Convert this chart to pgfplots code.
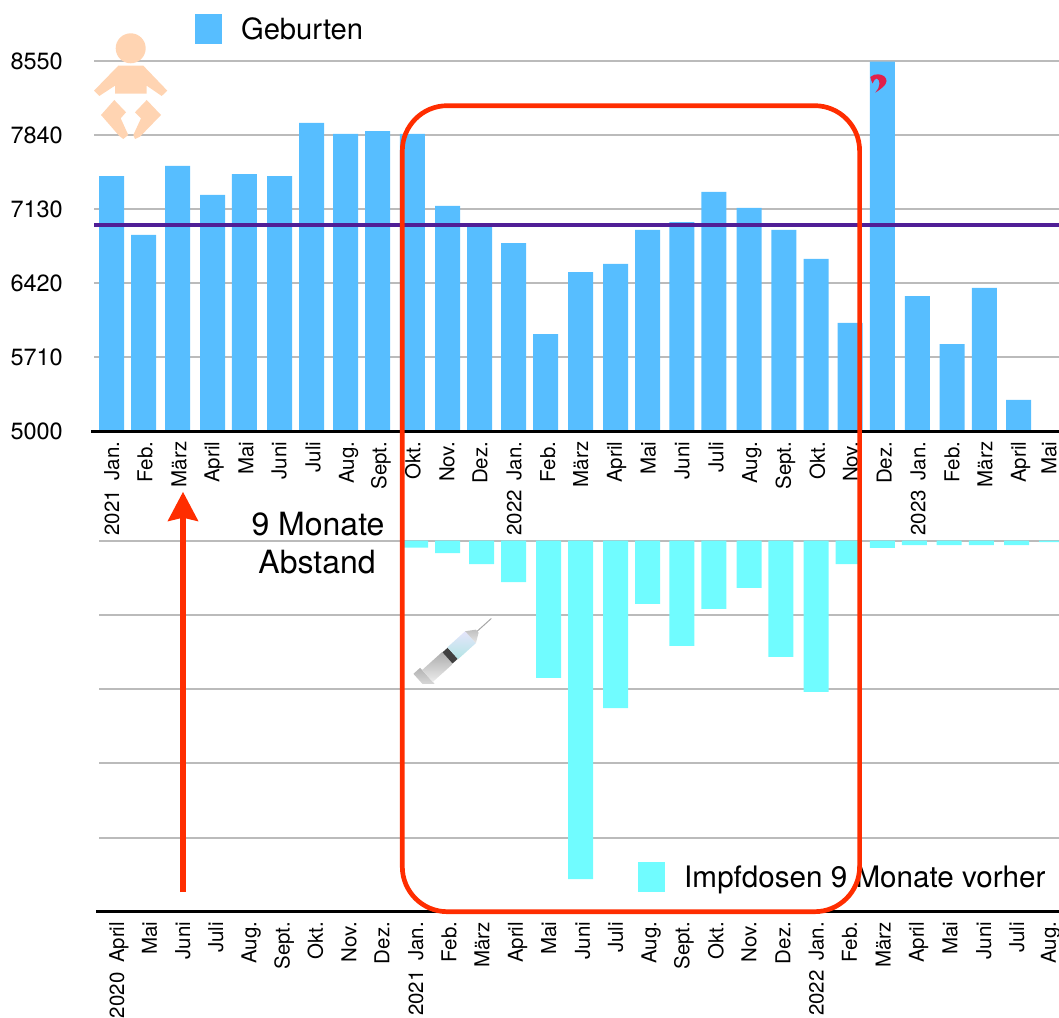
\documentclass[border=0pt]{standalone}
\usepackage{fontspec}
\setmainfont{TeX Gyre Heros}
\usepackage{pgfplots}
\pgfplotsset{compat=1.18}
\usetikzlibrary{arrows.meta}
\definecolor{gridgray}{HTML}{BBBBBB}
\definecolor{birthblue}{HTML}{57BEFF}
\definecolor{doseaqua}{HTML}{70FCFF}
\definecolor{meanpurple}{HTML}{501E96}
\definecolor{boxred}{HTML}{FF2D00}
\definecolor{babypeach}{HTML}{FFD4B2}
\definecolor{qcrimson}{HTML}{E0204A}
\newcommand{\yr}[2]{#1\hspace{.47em}#2}
\pgfplotsset{
  monthaxis/.style={
    scale only axis, clip=false, xmax=1059,
    axis line style={draw=none}, tick style={draw=none},
    major tick length=0pt,
    ymajorgrids, grid style={gridgray,line width=2pt},
    /pgf/number format/assume math mode=true,
    /pgf/number format/set thousands separator={},
    xticklabel style={yshift=-10pt,rotate=90,anchor=east,inner sep=0pt,
      font=\fontsize{20.5}{24}\selectfont,text height=14.8pt,text depth=0pt},
    legend style={draw=none,fill=none,anchor=west,inner sep=0pt,outer sep=0pt,
      /tikz/column sep=19pt,nodes={inner sep=0pt}},
  },
  squarebar/.style={ybar,bar width=25pt,draw=none,
    legend image code/.code={\fill[##1] (0pt,-15pt) rectangle (27pt,15pt);}},
}
\begin{document}
\begin{tikzpicture}
\useasboundingbox (0,0) rectangle (1059pt,1017pt);

% Geburten
\begin{axis}[monthaxis,
  at={(94pt,585.5pt)}, anchor=south west,
  width=965pt, height=370.5pt,
  xmin=94, ymin=5000, ymax=8550,
  ytick={5000,5710,6420,7130,7840,8550},
  yticklabel style={anchor=east,inner sep=0pt,xshift=-31pt,
    font=\fontsize{23.5}{28}\selectfont},
  xtick={111.6,145,179,212,246,279,313,346.5,379,413,447,480,514,547.6,580.7,
    614.5,648.3,682,716,749.7,783.5,817.4,850.5,884.3,918,952,985,1018.5,1049},
  xticklabels={\yr{2021}{Jan.},Feb.,März,April,Mai,Juni,Juli,Aug.,Sept.,Okt.,Nov.,Dez.,
    \yr{2022}{Jan.},Feb.,März,April,Mai,Juni,Juli,Aug.,Sept.,Okt.,Nov.,Dez.,
    \yr{2023}{Jan.},Feb.,März,April,Mai},
  legend style={at={(0.1047,1.0864)},font=\fontsize{29.2}{34}\selectfont},
]
\addplot[squarebar,fill=birthblue] coordinates {
  (111.6,7448) (143.7,6883) (177.5,7544) (212.6,7266) (244.4,7467) (279.6,7448)
  (311.7,7956) (345.5,7851) (377.6,7879) (412.4,7851) (447.6,7161) (479.7,6983)
  (513.5,6806) (545.6,5934) (580.7,6528) (615.5,6605) (647.6,6931) (681.8,7007)
  (713.9,7295) (749.1,7142) (783.9,6931) (816,6653) (850.1,6040) (882.3,8545)
  (917.4,6298) (952.2,5838) (984.4,6375) (1018.5,5302)
};
\addlegendentry{Geburten}
\addplot[forget plot,meanpurple,line width=4pt] coordinates {(94,6981) (1059,6981)};
\addplot[forget plot,black,line width=2.7pt] coordinates {(91,5000) (1059,5000)};
\end{axis}

% Impfdosen
\begin{axis}[monthaxis,
  at={(99pt,105.3pt)}, anchor=south west,
  width=960pt, height=371pt,
  xmin=99, ymin=-5, ymax=0,
  ytick={-5,-4,-3,-2,-1,0}, yticklabels={},
  xtick={116.6,149.4,182.6,215.7,249,282.3,315.4,348.9,382,415.8,449,482,515.5,548.6,
    582.4,615.5,649,682,716,749,782.9,816.3,849.5,883.3,916.4,949.9,983.7,1016.8,1048.5},
  xticklabels={\yr{2020}{April},Mai,Juni,Juli,Aug.,Sept.,Okt.,Nov.,Dez.,
    \yr{2021}{Jan.},Feb.,März,April,Mai,Juni,Juli,Aug.,Sept.,Okt.,Nov.,Dez.,
    \yr{2022}{Jan.},Feb.,März,April,Mai,Juni,Juli,Aug.},
  legend style={at={(0.5617,0.0935)},font=\fontsize{29.6}{34}\selectfont},
]
\addplot[squarebar,fill=doseaqua] coordinates {
  (415.5,-0.094) (447.6,-0.166) (481.7,-0.314) (513.5,-0.557) (548.6,-1.85)
  (580.7,-4.56) (615.5,-2.255) (647.6,-0.853) (681.8,-1.419) (713.9,-0.92)
  (749.1,-0.637) (780.8,-1.567) (816,-2.039) (848.1,-0.314) (882.3,-0.098)
  (914.4,-0.058) (949.2,-0.058) (981.3,-0.058) (1016.5,-0.058) (1051.6,-0.018)
};
\addlegendentry{Impfdosen 9 Monate vorher}
\addplot[forget plot,black,line width=2.7pt] coordinates {(96.3,-5) (1059,-5)};
\end{axis}

% annotations in the picture's own pixel coordinates
\begin{scope}[x=1pt,y=-1pt,yshift=1017pt]
  % baby
  \fill[babypeach] (130.7,48.3) circle (15);
  \fill[babypeach] (118.3,65.7) -- (143.3,65.7) -- (167.3,90.7) -- (161.7,96)
    -- (146.7,85.7) -- (146.7,93.7) -- (115,93.7) -- (115,85.7) -- (99.3,96)
    -- (94,90.7) -- cycle;
  \fill[babypeach] (114.3,100) -- (126,112.3) -- (120.7,118.3) -- (128.3,135)
    -- (123.3,139) -- (119.3,136) -- (101,115) -- cycle;
  \fill[babypeach] (146.7,100) -- (161,115) -- (140,136.7) -- (135,139)
    -- (133.3,135) -- (141,118.3) -- (135,112.3) -- cycle;
  % syringe
  \begin{scope}
    \clip (400,610) rectangle (500,683.5);
    \begin{scope}[shift={(423,680)},rotate=42]
      \shade[top color=gray!60,bottom color=gray!20] (-3,-11) rectangle (6,11);
      \shade[top color=gray!65,bottom color=gray!15] (6,-8) rectangle (33,8);
      \fill[black!75] (33,-7.5) rectangle (40,7.5);
      \shade[top color=black!15!blue!10!white,bottom color=black!35!cyan!30] (40,-8) rectangle (64,8);
      \shade[top color=gray!50,bottom color=gray!20] (64,-8) -- (73,-2) -- (73,2) -- (64,8) -- cycle;
      \draw[gray!70,line width=1pt] (73,0) -- (92,0);
    \end{scope}
  \end{scope}
  % question mark on the December bar
  \fill[qcrimson] (870.3,77) .. controls (872.5,75) and (875.5,74) .. (878.5,74.3)
    .. controls (883.5,74.8) and (886.5,77.5) .. (886.5,81)
    .. controls (886.5,85.5) and (880,89.5) .. (875.3,92.7)
    .. controls (877.5,90) and (879.6,87) .. (879.5,83.5)
    .. controls (879.4,81) and (878.5,79) .. (876.8,78.5)
    .. controls (875,78.2) and (874.3,80.5) .. (872.5,83.5)
    .. controls (871.5,81.5) and (870.8,79) .. (870.3,77) -- cycle;
  % arrow and note
  \draw[boxred,line width=6.5pt,-{Stealth[length=29pt,width=29.4pt,inset=3pt]}]
    (183,892) -- (183,491.7);
  \node[anchor=base,inner sep=0pt,font=\fontsize{32}{36}\selectfont] at (318,536) {9 Monate};
  \node[anchor=base,inner sep=0pt,font=\fontsize{32}{36}\selectfont] at (317,573.5) {Abstand};
  % box
  \draw[boxred,line width=4.7pt,rounded corners=45pt]
    (402.3,105.7) rectangle (859.6,911.7);
\end{scope}
\end{tikzpicture}
\end{document}
